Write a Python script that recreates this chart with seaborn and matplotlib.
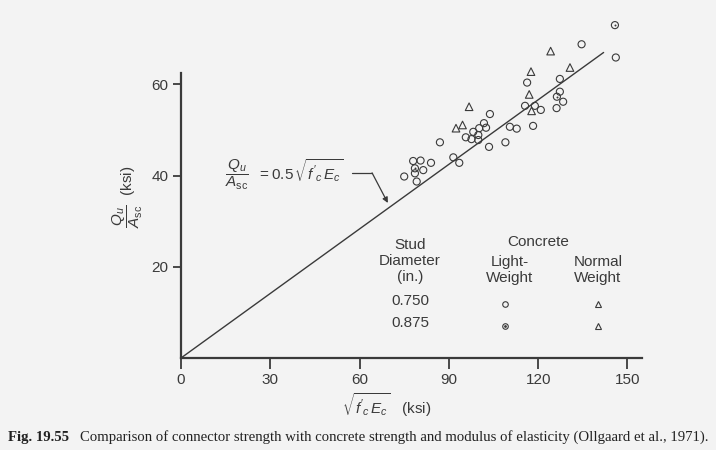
import matplotlib
matplotlib.use("Agg")
import matplotlib.pyplot as plt
import seaborn as sns
import pandas as pd

# Light-weight concrete, 0.750 in. studs (open circles)
lw750_x = [134.6, 146.1, 127.3, 116.3, 127.3, 128.4, 126.2, 115.6, 118.9, 120.9,
           118.3, 110.5, 112.8, 103.8, 101.8, 102.5, 100.2, 98.2, 99.9, 95.7,
           97.6, 99.9, 103.5, 109.0, 87.0, 91.5, 93.5, 78.0, 80.5, 84.0,
           81.4, 78.6, 75.0, 79.2]
lw750_y = [68.8, 65.9, 61.2, 60.4, 58.4, 56.2, 54.8, 55.3, 55.3, 54.4,
           50.9, 50.7, 50.3, 53.5, 51.5, 50.5, 50.4, 49.6, 48.9, 48.4,
           48.0, 47.8, 46.3, 47.3, 47.3, 44.0, 42.8, 43.2, 43.3, 42.8,
           41.2, 40.5, 39.8, 38.7]

# Light-weight concrete, 0.875 in. studs (circle with dot)
lw875_x = [145.8, 126.3, 78.6]
lw875_y = [73.0, 57.3, 41.6]

# Normal-weight concrete (triangles)
nw_x = [124.2, 130.7, 117.6, 117.0, 117.8, 96.8, 92.4, 94.6]
nw_y = [67.3, 63.7, 62.8, 57.8, 54.2, 55.1, 50.4, 51.1]

# Fitted line Qu/Asc = 0.5 sqrt(f'c Ec)
line_x = [0, 142]
line_y = [0, 67]

x_ticks = [0, 30, 60, 90, 120, 150]
y_ticks = [20, 40, 60]

ink = "#3a3a3a"
bg = "#f3f3f3"

sns.set_style("white")
plt.rcParams["font.family"] = ["Liberation Sans", "DejaVu Sans"]
plt.rcParams["mathtext.fontset"] = "custom"
plt.rcParams["mathtext.rm"] = "Liberation Sans"
plt.rcParams["mathtext.it"] = "Liberation Sans:italic"
plt.rcParams["mathtext.bf"] = "Liberation Sans:bold"

W, H = 716, 450
fig = plt.figure(figsize=(W / 100, H / 100), dpi=100, facecolor=bg)


def fx(px):
    return px / W


def fy(py):
    return 1 - py / H


ax = fig.add_axes([fx(181), fy(358), (642 - 181) / W, (358 - 73) / H])
ax.set_facecolor(bg)

lw_df = pd.DataFrame({"x": lw750_x, "y": lw750_y})
lw2_df = pd.DataFrame({"x": lw875_x, "y": lw875_y})
nw_df = pd.DataFrame({"x": nw_x, "y": nw_y})
line_df = pd.DataFrame({"x": line_x, "y": line_y})

sns.lineplot(data=line_df, x="x", y="y", color=ink, linewidth=1.0, ax=ax,
             clip_on=False)
sns.scatterplot(data=lw_df, x="x", y="y", marker="o", s=26, facecolors="none",
                edgecolors=ink, linewidth=0.8, ax=ax, clip_on=False)
sns.scatterplot(data=lw2_df, x="x", y="y", marker="o", s=26, facecolors="none",
                edgecolors=ink, linewidth=0.8, ax=ax, clip_on=False)
sns.scatterplot(data=lw2_df, x="x", y="y", marker="o", s=2, color=ink,
                linewidth=0, ax=ax, clip_on=False)
sns.scatterplot(data=nw_df, x="x", y="y", marker="^", s=30, facecolors="none",
                edgecolors=ink, linewidth=0.8, ax=ax, clip_on=False)

ax.set_xlim(0, 154.9)
ax.set_ylim(0, 62.5)
ax.set_xticks(x_ticks)
ax.set_yticks(y_ticks)
ax.set_xlabel("")
ax.set_ylabel("")
for side in ["top", "right"]:
    ax.spines[side].set_visible(False)
for side in ["left", "bottom"]:
    ax.spines[side].set_color(ink)
    ax.spines[side].set_linewidth(1.6)
ax.tick_params(axis="x", direction="out", length=8, width=1.3, colors=ink,
               labelsize=11, pad=3)
ax.tick_params(axis="y", direction="out", length=6, width=1.3, colors=ink,
               labelsize=11, pad=3)
ax.tick_params(bottom=True, left=True)

# axis titles
fig.text(fx(128), fy(197), r"$\dfrac{Q_u}{A_{\mathrm{sc}}}$  (ksi)", rotation=90,
         ha="center", va="center", fontsize=11, color=ink)
fig.text(fx(387), fy(405), r"$\sqrt{f'_c\,E_c}$   (ksi)",
         ha="center", va="center", fontsize=11, color=ink)

# equation with leader arrow
fig.text(fx(284), fy(175),
         r"$\dfrac{Q_u}{A_{\mathrm{sc}}}\ \ = 0.5\,\sqrt{f'_c\,E_c}$",
         ha="center", va="center", fontsize=11, color=ink)
ax.plot([57.4, 64.2], [40.6, 40.6], color=ink, linewidth=0.9)
ax.annotate("", xy=(69.5, 34.0), xytext=(64.2, 40.6),
            arrowprops=dict(arrowstyle="-|>", color=ink, lw=0.9,
                            mutation_scale=8, shrinkA=0, shrinkB=0))

# key
fs = 11
fig.text(fx(410), fy(261), "Stud\nDiameter\n(in.)", ha="center", va="center",
         fontsize=fs, color=ink, linespacing=1.15)
fig.text(fx(538), fy(242), "Concrete", ha="center", va="center", fontsize=fs, color=ink)
fig.text(fx(510), fy(270), "Light-\nWeight", ha="center", va="center",
         fontsize=fs, color=ink, linespacing=1.15)
fig.text(fx(598), fy(270), "Normal\nWeight", ha="center", va="center",
         fontsize=fs, color=ink, linespacing=1.15)
fig.text(fx(410), fy(301), "0.750", ha="center", va="center", fontsize=fs, color=ink)
fig.text(fx(410), fy(323), "0.875", ha="center", va="center", fontsize=fs, color=ink)
key_kw = dict(transform=fig.transFigure, clip_on=False, zorder=5)
fig.add_artist(plt.Line2D([fx(505)], [fy(304)], marker="o", markersize=4,
                          markerfacecolor="none", markeredgecolor=ink,
                          markeredgewidth=0.8, linestyle="none", **key_kw))
fig.add_artist(plt.Line2D([fx(505)], [fy(326)], marker="o", markersize=4,
                          markerfacecolor="none", markeredgecolor=ink,
                          markeredgewidth=0.8, linestyle="none", **key_kw))
fig.add_artist(plt.Line2D([fx(505)], [fy(326)], marker="o", markersize=1,
                          color=ink, linestyle="none", **key_kw))
fig.add_artist(plt.Line2D([fx(598)], [fy(304)], marker="^", markersize=4.5,
                          markerfacecolor="none", markeredgecolor=ink,
                          markeredgewidth=0.8, linestyle="none", **key_kw))
fig.add_artist(plt.Line2D([fx(598)], [fy(326)], marker="^", markersize=4.5,
                          markerfacecolor="none", markeredgecolor=ink,
                          markeredgewidth=0.8, linestyle="none", **key_kw))

# caption
serif = ["Liberation Serif", "DejaVu Serif"]
fig.text(fx(8), fy(437), "Fig. 19.55", ha="left", va="center", fontsize=10.6,
         fontweight="bold", family=serif, color="#222222")
fig.text(fx(80), fy(437),
         "Comparison of connector strength with concrete strength and modulus "
         "of elasticity (Ollgaard et al., 1971).",
         ha="left", va="center", fontsize=10.6, family=serif, color="#222222")

fig.savefig("out.png", dpi=100, facecolor=bg)
